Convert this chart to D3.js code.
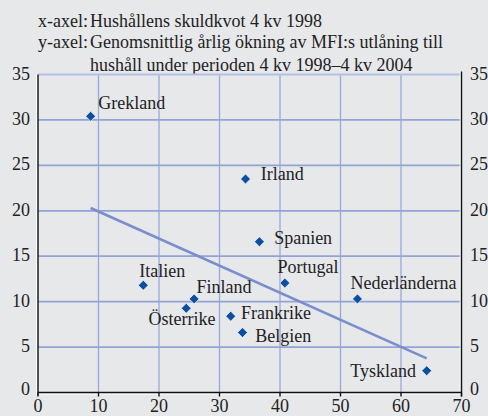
<!DOCTYPE html>
<html>
<head>
<meta charset="utf-8">
<script src="https://cdn.jsdelivr.net/npm/d3@7"></script>
<style>
    html, body { margin: 0; padding: 0; background: #e7e8ea; }
    svg { display: block; }
    text { font-family: "Liberation Serif", "Times New Roman", serif; fill: #222; }
</style>
</head>
<body>
<svg id="chart"></svg>
<script>
// data
var countries = ["Grekland", "Irland", "Spanien", "Italien", "Portugal", "Finland",
    "Österrike", "Frankrike", "Belgien", "Nederländerna", "Tyskland"];
var debtRatio = [8.7, 34.3, 36.6, 17.4, 40.8, 25.8, 24.5, 31.85, 33.8, 52.8, 64.25];
var lendingGrowth = [30.4, 23.5, 16.6, 11.8, 12.05, 10.3, 9.27, 8.4, 6.6, 10.3, 2.4];
var trendX = [8.7, 64.25];
var trendY = [20.3, 3.76];
var xTicks = [0, 10, 20, 30, 40, 50, 60, 70];
var yTicks = [0, 5, 10, 15, 20, 25, 30, 35];
var headerLines = [
    ["x-axel:", "Hushållens skuldkvot 4 kv 1998"],
    ["y-axel:", "Genomsnittlig årlig ökning av MFI:s utlåning till"],
    ["", "hushåll under perioden 4 kv 1998–4 kv 2004"]
];

// label placement relative to marker (dx, dy, anchor)
var labelPos = {
    "Grekland": [7.6, -7, "start"],
    "Irland": [15.3, 1, "start"],
    "Spanien": [14.7, 2, "start"],
    "Italien": [-4, -8.6, "start"],
    "Portugal": [-7.4, -9.7, "start"],
    "Finland": [2.4, -5.7, "start"],
    "Österrike": [-37.7, 16.7, "start"],
    "Frankrike": [10.3, 3, "start"],
    "Belgien": [12.7, 9.6, "start"],
    "Nederländerna": [-7, -9.7, "start"],
    "Tyskland": [-10.7, 6, "end"]
};

var width = 488, height = 416;
var svg = d3.select("#chart").attr("width", width).attr("height", height);

var x = d3.scaleLinear().domain([0, 70]).range([38, 461.5]);
var y = d3.scaleLinear().domain([0, 35]).range([392.5, 74.5]);

// header
var header = svg.append("g").attr("font-size", 18);
headerLines.forEach(function (l, i) {
    var by = [27, 47.5, 71][i];
    header.append("text").attr("x", 38).attr("y", by).text(l[0]);
    header.append("text").attr("x", 90).attr("y", by).text(l[1]);
});

// grid
var grid = svg.append("g");
grid.selectAll("line.v")
    .data(xTicks.slice(1, -1))
    .enter()
    .append("line")
    .attr("x1", function (d) { return x(d); })
    .attr("x2", function (d) { return x(d); })
    .attr("y1", y(35))
    .attr("y2", y(0))
    .attr("stroke", "#9aa8d8")
    .attr("stroke-width", 1.3);
grid.selectAll("line.h")
    .data(yTicks.slice(1))
    .enter()
    .append("line")
    .attr("x1", x(0))
    .attr("x2", x(70))
    .attr("y1", function (d) { return y(d); })
    .attr("y2", function (d) { return y(d); })
    .attr("stroke", function (d) { return d === 35 ? "#b4bfe4" : "#94a3d6"; })
    .attr("stroke-width", 1.8);

// axes frame
var frame = svg.append("g");
frame.append("line").attr("x1", x(0) - 1.2).attr("x2", x(0) - 1.2).attr("y1", y(35)).attr("y2", y(0) + 3)
    .attr("stroke", "#fff").attr("stroke-width", 1.2);
frame.append("line").attr("x1", x(0)).attr("x2", x(0)).attr("y1", y(35)).attr("y2", y(0) + 3)
    .attr("stroke", "#111").attr("stroke-width", 1.4);
frame.append("line").attr("x1", x(70) - 1.2).attr("x2", x(70) - 1.2).attr("y1", y(35) - 3).attr("y2", y(0))
    .attr("stroke", "#fff").attr("stroke-width", 1.2);
frame.append("line").attr("x1", x(70)).attr("x2", x(70)).attr("y1", y(35) - 3).attr("y2", y(0) + 4)
    .attr("stroke", "#111").attr("stroke-width", 1.4);
frame.append("line").attr("x1", x(0)).attr("x2", x(70)).attr("y1", y(0) + 1.3).attr("y2", y(0) + 1.3)
    .attr("stroke", "#fff").attr("stroke-width", 1.2);
frame.append("line").attr("x1", x(0)).attr("x2", x(70)).attr("y1", y(0)).attr("y2", y(0))
    .attr("stroke", "#111").attr("stroke-width", 1.4);
frame.selectAll("line.tick")
    .data(xTicks)
    .enter()
    .append("line")
    .attr("x1", function (d) { return x(d); })
    .attr("x2", function (d) { return x(d); })
    .attr("y1", y(0))
    .attr("y2", y(0) + 4)
    .attr("stroke", "#111")
    .attr("stroke-width", 1.4);

// tick labels
var labels = svg.append("g").attr("font-size", 18);
labels.selectAll("text.xl")
    .data(xTicks)
    .enter()
    .append("text")
    .attr("x", function (d) { return x(d); })
    .attr("y", 412)
    .attr("text-anchor", "middle")
    .text(function (d) { return d; });
labels.selectAll("text.yl")
    .data(yTicks)
    .enter()
    .append("text")
    .attr("x", 30)
    .attr("y", function (d) { return y(d) + (d === 0 ? 2 : 5); })
    .attr("text-anchor", "end")
    .text(function (d) { return d; });
labels.selectAll("text.yr")
    .data(yTicks)
    .enter()
    .append("text")
    .attr("x", 470)
    .attr("y", function (d) { return y(d) + (d === 0 ? 2 : 5); })
    .attr("text-anchor", "start")
    .text(function (d) { return d; });

// trend line
svg.append("line")
    .attr("x1", x(trendX[0]))
    .attr("y1", y(trendY[0]))
    .attr("x2", x(trendX[1]))
    .attr("y2", y(trendY[1]))
    .attr("stroke", "#7a8dcc")
    .attr("stroke-width", 2.6);

// points
var data = d3.range(countries.length).map(function (i) {
    return { name: countries[i], x: debtRatio[i], y: lendingGrowth[i] };
});
var pts = svg.append("g");
pts.selectAll("rect")
    .data(data)
    .enter()
    .append("rect")
    .attr("x", -3.5)
    .attr("y", -3.5)
    .attr("width", 7)
    .attr("height", 7)
    .attr("fill", "#0b4f9e")
    .attr("stroke", "#fff")
    .attr("stroke-width", 0.6)
    .attr("transform", function (d) {
        return "translate(" + x(d.x) + "," + y(d.y) + ") rotate(45)";
    });
pts.selectAll("text")
    .data(data)
    .enter()
    .append("text")
    .attr("font-size", 18)
    .attr("x", function (d) { return x(d.x) + labelPos[d.name][0]; })
    .attr("y", function (d) { return y(d.y) + labelPos[d.name][1]; })
    .attr("text-anchor", function (d) { return labelPos[d.name][2]; })
    .text(function (d) { return d.name; });
</script>
</body>
</html>
